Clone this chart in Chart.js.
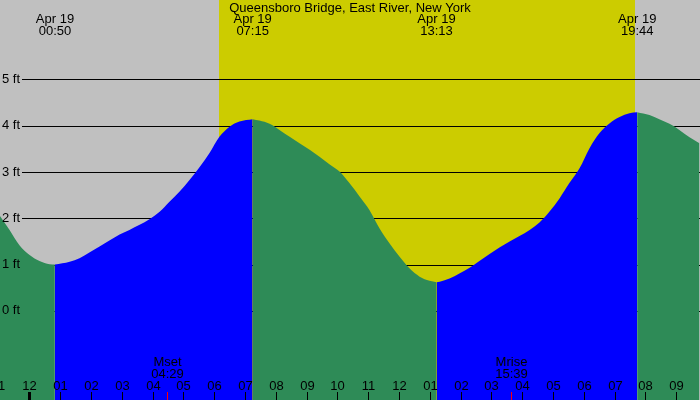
<!DOCTYPE html>
<html>
<head>
<meta charset="utf-8">
<script src="https://cdn.jsdelivr.net/npm/chart.js@4.4.1/dist/chart.umd.min.js"></script>
<style>
    html, body { margin: 0; padding: 0; background: #c0c0c0; }
    #tideChart { display: block; }
</style>
</head>
<body>
<canvas id="tideChart" width="700" height="400"></canvas>
<script>
var title = "Queensboro Bridge, East River, New York";
var dayLabel = "Apr 19";

// hours after midnight of Apr 19, tide height in feet
var tideTimes = [-0.97, -0.64, -0.32, 0.01, 0.33, 0.66, 0.83, 1.31, 1.63, 1.95, 2.28, 2.60, 2.93, 3.25, 3.58, 3.90,
    4.23, 4.55, 4.88, 5.20, 5.53, 5.85, 6.17, 6.50, 6.82, 7.25, 7.47, 7.80, 8.12, 8.45, 8.77, 9.10, 9.42, 9.74,
    10.07, 10.39, 10.72, 11.04, 11.37, 11.69, 12.02, 12.34, 12.67, 12.99, 13.22, 13.32, 13.64, 13.96, 14.29,
    14.61, 14.94, 15.26, 15.59, 15.91, 16.24, 16.56, 16.88, 17.21, 17.53, 17.86, 18.18, 18.51, 18.83, 19.16,
    19.48, 19.73, 20.13, 20.45, 20.78, 21.10, 21.43, 21.75];
var tideFt = [2.07, 1.75, 1.42, 1.21, 1.08, 1.01, 1.00, 1.06, 1.14, 1.26, 1.39, 1.52, 1.65, 1.75, 1.86, 1.98,
    2.14, 2.36, 2.58, 2.83, 3.11, 3.41, 3.76, 3.98, 4.09, 4.14, 4.11, 4.04, 3.91, 3.76, 3.62, 3.48, 3.33, 3.17,
    3.01, 2.76, 2.47, 2.18, 1.78, 1.46, 1.17, 0.92, 0.74, 0.65, 0.62, 0.63, 0.70, 0.81, 0.93,
    1.08, 1.23, 1.37, 1.50, 1.62, 1.75, 1.91, 2.14, 2.43, 2.76, 3.08, 3.51, 3.84, 4.05, 4.19,
    4.27, 4.29, 4.23, 4.14, 4.04, 3.91, 3.75, 3.62];

var hiLoTimes = [0.833, 7.25, 13.217, 19.733];
var hiLoType = ["L", "H", "L", "H"];
var hiLoLabels = ["00:50", "07:15", "13:13", "19:44"];

var sunrise = 6.17;
var sunset = 19.65;

var moonTimes = [4.483, 15.65];
var moonNames = ["Mset", "Mrise"];
var moonLabels = ["04:29", "15:39"];

var ftTicks = [0, 1, 2, 3, 4, 5];
var hourTicks = [];
for (let h = -1; h <= 21; h++) hourTicks.push(h);

var xMin = -0.951, xMax = 21.77;
var yMin = -1.924, yMax = 6.715;

var fontName = "'Liberation Sans', Arial, sans-serif";

function isRising(t) {
    var prev = null;
    for (let k = 0; k < hiLoTimes.length; k++) {
        if (hiLoTimes[k] <= t) prev = hiLoType[k];
    }
    return prev === "L";
}

var risingData = [];
var fallingData = [];
for (let i = 0; i < tideTimes.length; i++) {
    var t = tideTimes[i];
    var extreme = hiLoTimes.some(function (e) { return Math.abs(e - t) < 0.02; });
    var up = isRising(t);
    risingData.push({ x: t, y: (up || extreme) ? tideFt[i] : null });
    fallingData.push({ x: t, y: (!up || extreme) ? tideFt[i] : null });
}

function hourText(h) {
    var v = ((h % 12) + 12) % 12;
    if (v === 0) v = 12;
    return (v < 10 ? "0" : "") + v;
}

var decorPlugin = {
    id: "decor",
    beforeDraw: function (chart) {
        var ctx = chart.ctx;
        var xs = chart.scales.x;
        ctx.save();
        ctx.fillStyle = "#c0c0c0";
        ctx.fillRect(0, 0, chart.width, chart.height);
        var x1 = Math.round(xs.getPixelForValue(sunrise));
        var x2 = Math.round(xs.getPixelForValue(sunset));
        ctx.fillStyle = "#cccc00";
        ctx.fillRect(x1, 0, x2 - x1, chart.height);
        ctx.restore();
    },
    beforeDatasetsDraw: function (chart) {
        var ctx = chart.ctx;
        var ys = chart.scales.y;
        ctx.save();
        ctx.strokeStyle = "#000";
        ctx.lineWidth = 1;
        ftTicks.forEach(function (f) {
            var y = Math.round(ys.getPixelForValue(f)) + 0.5;
            ctx.beginPath();
            ctx.moveTo(22, y);
            ctx.lineTo(chart.width, y);
            ctx.stroke();
        });
        ctx.restore();
    },
    afterDatasetsDraw: function (chart) {
        var ctx = chart.ctx;
        var xs = chart.scales.x;
        var ys = chart.scales.y;
        ctx.save();
        ctx.fillStyle = "#000";
        ctx.font = "13px " + fontName;
        ctx.textBaseline = "middle";

        ctx.textAlign = "left";
        ftTicks.forEach(function (f) {
            ctx.fillText(f + " ft", 2, ys.getPixelForValue(f));
        });

        ctx.textAlign = "center";
        ctx.fillText(title, chart.width / 2, 8);
        hiLoTimes.forEach(function (t, k) {
            var x = xs.getPixelForValue(t);
            ctx.fillText(dayLabel, x, 19.5);
            ctx.fillText(hiLoLabels[k], x, 31.5);
        });

        hourTicks.forEach(function (h) {
            var x = Math.round(xs.getPixelForValue(h)) + 0.5;
            ctx.fillText(hourText(h), x, 386);
            ctx.strokeStyle = "#000";
            ctx.lineWidth = h === 0 ? 3 : 1;
            ctx.beginPath();
            ctx.moveTo(x, 392);
            ctx.lineTo(x, 400);
            ctx.stroke();
        });

        moonTimes.forEach(function (t, k) {
            var x = Math.round(xs.getPixelForValue(t)) + 0.5;
            ctx.fillText(moonNames[k], x, 362);
            ctx.fillText(moonLabels[k], x, 374);
            ctx.strokeStyle = "#ff0000";
            ctx.lineWidth = 1;
            ctx.beginPath();
            ctx.moveTo(x, 392);
            ctx.lineTo(x, 400);
            ctx.stroke();
        });
        ctx.restore();
    }
};

var tideChart = new Chart(document.getElementById("tideChart").getContext("2d"), {
    type: "line",
    data: {
        datasets: [{
            data: fallingData,
            backgroundColor: "#2e8b57",
            borderWidth: 0,
            pointRadius: 0,
            fill: "start",
            cubicInterpolationMode: "monotone",
            spanGaps: false
        }, {
            data: risingData,
            backgroundColor: "#0000ff",
            borderWidth: 0,
            pointRadius: 0,
            fill: "start",
            cubicInterpolationMode: "monotone",
            spanGaps: false
        }]
    },
    plugins: [decorPlugin],
    options: {
        responsive: false,
        animation: false,
        layout: { padding: 0 },
        scales: {
            x: { type: "linear", min: xMin, max: xMax, display: false },
            y: { min: yMin, max: yMax, display: false }
        },
        plugins: {
            legend: { display: false },
            tooltip: { enabled: false }
        }
    }
});
</script>
</body>
</html>
